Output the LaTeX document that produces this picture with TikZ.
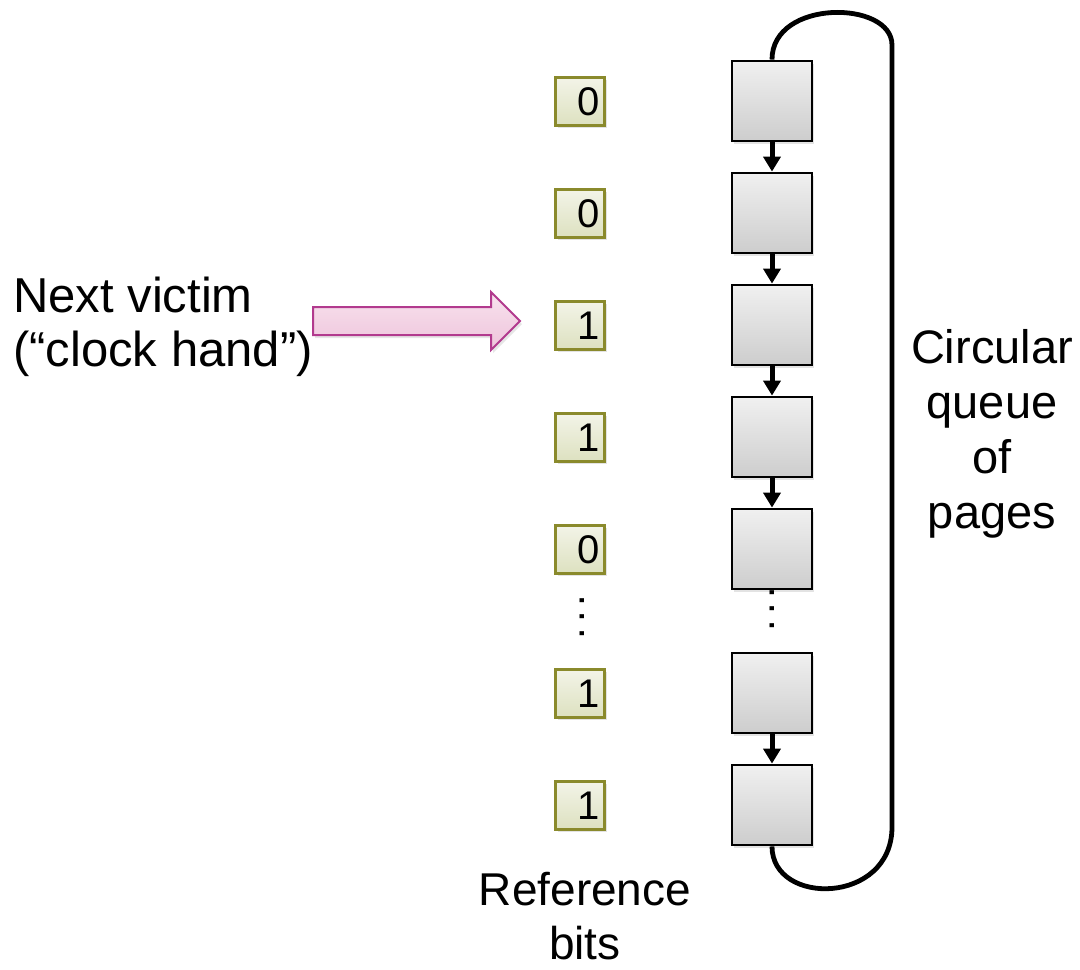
\documentclass[tikz,border=0pt]{standalone}
\usepackage{fontspec}
\setmainfont{Liberation Sans}
\usetikzlibrary{arrows.meta,calc,shadows}
\definecolor{pgborder}{HTML}{000000}
\definecolor{pgtop}{HTML}{F0F0F0}
\definecolor{pgbot}{HTML}{CDCDCD}
\definecolor{bitborder}{HTML}{8A8A2C}
\definecolor{bittop}{HTML}{F3F4E8}
\definecolor{bitbot}{HTML}{DDE1C0}
\definecolor{pinkborder}{HTML}{B23A8E}
\definecolor{pinktop}{HTML}{F8E2EE}
\definecolor{pinkbot}{HTML}{EEC4DB}
\tikzset{
  pagebox/.style={draw=pgborder, line width=2.8pt, top color=pgtop, bottom color=pgbot,
    minimum width=80pt, minimum height=80pt, inner sep=0pt,
    drop shadow={opacity=0.22, shadow xshift=2pt, shadow yshift=-3pt}},
  bitbox/.style={draw=bitborder, line width=3pt, top color=bittop, bottom color=bitbot,
    minimum width=49pt, minimum height=48pt, inner xsep=5pt, inner ysep=0pt,
    text width=39pt, align=right, text height=29pt, text depth=0pt,
    font=\fontsize{40}{44}\selectfont,
    drop shadow={opacity=0.22, shadow xshift=2pt, shadow yshift=-3pt}},
  link/.style={line width=5pt, -{Triangle[width=17pt,length=15pt]}},
  loopline/.style={line width=4.8pt},
  dotcol/.style={font=\fontsize{42}{44}\selectfont, rotate=90, inner sep=0pt},
  pinkarrow/.style={draw=pinkborder, line width=2pt, top color=pinktop, bottom color=pinkbot,
    drop shadow={opacity=0.2, shadow xshift=2pt, shadow yshift=-3pt}},
  label/.style={inner sep=0pt}
}
\begin{document}
\begin{tikzpicture}[x=1pt,y=-1pt]
\useasboundingbox (0,0) rectangle (1080,970);
% pages
\node[pagebox] (p1) at (772,101) {};
\node[pagebox] (p2) at (772,213) {};
\node[pagebox] (p3) at (772,325) {};
\node[pagebox] (p4) at (772,437) {};
\node[pagebox] (p5) at (772,549) {};
\node[pagebox] (p6) at (772,693) {};
\node[pagebox] (p7) at (772,805) {};
% bits
\node[bitbox] (b1) at (580,101) {0};
\node[bitbox] (b2) at (580,213) {0};
\node[bitbox] (b3) at (580,325) {1};
\node[bitbox] (b4) at (580,437) {1};
\node[bitbox] (b5) at (580,549) {0};
\node[bitbox] (b6) at (580,693) {1};
\node[bitbox] (b7) at (580,805) {1};
% dots
\node[dotcol] (bd) at (582,617) {.\hspace{5pt}.\hspace{5pt}.};
\node[dotcol] (pd) at (772,609) {.\hspace{5pt}.\hspace{5pt}.};
% links
\draw[link] (p1.south) -- (p2.north);
\draw[link] (p2.south) -- (p3.north);
\draw[link] (p3.south) -- (p4.north);
\draw[link] (p4.south) -- (p5.north);
\draw[link] (p6.south) -- (p7.north);
% circular loop
\coordinate (rt) at (892,45);
\coordinate (rb) at (892,827);
\draw[loopline] (p1.north) .. controls ($(p1.north)+(0,-61)$) and (892,0) .. (rt)
  -- (rb) .. controls (892,905) and ($(p7.south)+(0,60)$) .. (p7.south);
% labels
\node[label, align=left, anchor=base west, font=\fontsize{49}{54}\selectfont] (hand) at (13,366)
  {Next victim\\(“clock hand”)};
\node[label, align=center, anchor=base, font=\fontsize{47}{55}\selectfont] (circ) at (992,528)
  {Circular\\queue\\of\\pages};
\node[label, align=center, anchor=base, font=\fontsize{46}{54}\selectfont] (ref) at (585,959)
  {Reference\\bits};
% pink arrow
\coordinate (as) at ($(b3.west)+(-241,-4)$);
\coordinate (ae) at ($(b3.west)+(-34,-4)$);
\draw[pinkarrow] ($(as)+(0,-14)$) -- ($(ae)+(-29,-14)$) -- ($(ae)+(-29,-29)$) -- (ae)
  -- ($(ae)+(-29,29)$) -- ($(ae)+(-29,14)$) -- ($(as)+(0,14)$) -- cycle;
\end{tikzpicture}
\end{document}
